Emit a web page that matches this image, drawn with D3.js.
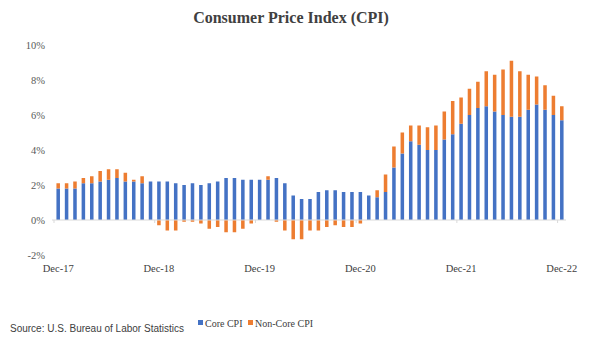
<html>
<head>
<meta http-equiv="content-type" content="text/html; charset=UTF8">
<title>Consumer Price Index (CPI)</title>
</head>
<style type="text/css">
body { margin: 0; padding: 0; overflow: hidden; background: #fff; }
svg text { font-family: "Liberation Serif", "Times New Roman", serif; }
</style>
<body>
<div id="chart"></div>
<script type="text/javascript" src="https://cdnjs.cloudflare.com/ajax/libs/d3/7.8.5/d3.min.js"></script>
<script type="text/javascript">

var months = [
    "Dec-17",
    "Jan-18","Feb-18","Mar-18","Apr-18","May-18","Jun-18","Jul-18","Aug-18","Sep-18","Oct-18","Nov-18","Dec-18",
    "Jan-19","Feb-19","Mar-19","Apr-19","May-19","Jun-19","Jul-19","Aug-19","Sep-19","Oct-19","Nov-19","Dec-19",
    "Jan-20","Feb-20","Mar-20","Apr-20","May-20","Jun-20","Jul-20","Aug-20","Sep-20","Oct-20","Nov-20","Dec-20",
    "Jan-21","Feb-21","Mar-21","Apr-21","May-21","Jun-21","Jul-21","Aug-21","Sep-21","Oct-21","Nov-21","Dec-21",
    "Jan-22","Feb-22","Mar-22","Apr-22","May-22","Jun-22","Jul-22","Aug-22","Sep-22","Oct-22","Nov-22","Dec-22"
];

// year over year, percent
var coreCPI = [
    1.8,
    1.8, 1.8, 2.1, 2.1, 2.2, 2.3, 2.4, 2.2, 2.2, 2.1, 2.2, 2.2,
    2.2, 2.1, 2.0, 2.1, 2.0, 2.1, 2.2, 2.4, 2.4, 2.3, 2.3, 2.3,
    2.3, 2.4, 2.1, 1.4, 1.2, 1.2, 1.6, 1.7, 1.7, 1.6, 1.6, 1.6,
    1.4, 1.3, 1.6, 3.0, 3.8, 4.5, 4.3, 4.0, 4.0, 4.6, 4.9, 5.5,
    6.0, 6.4, 6.5, 6.2, 6.0, 5.9, 5.9, 6.3, 6.6, 6.3, 6.0, 5.7
];

var nonCoreCPI = [
    0.3,
    0.3, 0.4, 0.3, 0.4, 0.6, 0.6, 0.5, 0.5, 0.1, 0.4, 0.0, -0.3,
    -0.6, -0.6, -0.1, -0.1, -0.2, -0.5, -0.4, -0.7, -0.7, -0.5, -0.2, 0.0,
    0.2, -0.1, -0.6, -1.1, -1.1, -0.6, -0.6, -0.4, -0.3, -0.4, -0.4, -0.2,
    0.0, 0.4, 1.0, 1.2, 1.2, 0.9, 1.1, 1.3, 1.4, 1.6, 1.9, 1.5,
    1.5, 1.5, 2.0, 2.1, 2.6, 3.2, 2.6, 2.0, 1.6, 1.4, 1.1, 0.8
];

var yTicks = [-2, 0, 2, 4, 6, 8, 10];
var xTickLabels = ["Dec-17", "Dec-18", "Dec-19", "Dec-20", "Dec-21", "Dec-22"];
var seriesNames = ["Core CPI", "Non-Core CPI"];
var colors = ["#4472C4", "#ED7D31"];

var width = 603, height = 345;

var svg = d3.select("#chart").append("svg")
    .attr("width", width)
    .attr("height", height);

var x = d3.scaleBand()
    .domain(months)
    .range([54, 566])
    .paddingInner(0.58)
    .paddingOuter(0.29);

var y = d3.scaleLinear()
    .domain([-2, 10])
    .range([255, 45]);

var rows = months.map(function(m, i){
    return { month: m, core: coreCPI[i], noncore: nonCoreCPI[i] };
});

var stack = d3.stack()
    .keys(["core", "noncore"])
    .offset(d3.stackOffsetDiverging);

var layers = stack(rows);

// title
svg.append("text")
    .attr("x", 291)
    .attr("y", 23)
    .attr("text-anchor", "middle")
    .style("font-size", "16px")
    .style("font-weight", "bold")
    .attr("fill", "#404040")
    .text("Consumer Price Index (CPI)");

// y labels (no gridlines)
svg.append("g")
    .selectAll("text")
    .data(yTicks)
    .enter().append("text")
    .attr("x", 45)
    .attr("y", function(d){ return y(d); })
    .attr("dy", "0.35em")
    .attr("text-anchor", "end")
    .style("font-size", "10.5px")
    .attr("fill", "#595959")
    .text(function(d){ return d + "%"; });

// bars
svg.append("g")
    .selectAll("g")
    .data(layers)
    .enter().append("g")
    .attr("fill", function(d, i){ return colors[i]; })
    .selectAll("rect")
    .data(function(d){ return d; })
    .enter().append("rect")
    .attr("x", function(d){ return x(d.data.month); })
    .attr("width", x.bandwidth())
    .attr("y", function(d){ return y(Math.max(d[0], d[1])); })
    .attr("height", function(d){ return Math.abs(y(d[0]) - y(d[1])); });

// zero axis line
svg.append("line")
    .attr("x1", 52).attr("x2", 566)
    .attr("y1", y(0)).attr("y2", y(0))
    .attr("stroke", "#d9d9d9")
    .attr("stroke-width", 1);

// small ticks at year boundaries
svg.append("g")
    .selectAll("line")
    .data(xTickLabels)
    .enter().append("line")
    .attr("x1", function(d){ return x(d) - x.step() * 0.29; })
    .attr("x2", function(d){ return x(d) - x.step() * 0.29; })
    .attr("y1", y(0))
    .attr("y2", y(0) + 3)
    .attr("stroke", "#d9d9d9");

// x labels
svg.append("g")
    .selectAll("text")
    .data(xTickLabels)
    .enter().append("text")
    .attr("x", function(d){ return x(d) + x.bandwidth() / 2; })
    .attr("y", 272)
    .attr("text-anchor", "middle")
    .style("font-size", "10.5px")
    .attr("fill", "#404040")
    .text(function(d){ return d; });

// source
svg.append("text")
    .attr("x", 10)
    .attr("y", 332)
    .style("font-family", "'Liberation Sans', Arial, sans-serif")
    .style("font-size", "10px")
    .attr("fill", "#404040")
    .text("Source: U.S. Bureau of Labor Statistics");

// legend
var legendX = [198, 248];
var legend = svg.append("g")
    .selectAll("g")
    .data(seriesNames)
    .enter().append("g")
    .attr("transform", function(d, i){ return "translate(" + legendX[i] + ",323)"; });

legend.append("rect")
    .attr("x", 0)
    .attr("y", -3)
    .attr("width", 5)
    .attr("height", 5)
    .attr("fill", function(d, i){ return colors[i]; });

legend.append("text")
    .attr("x", 7)
    .attr("y", 0)
    .attr("dy", "0.35em")
    .style("font-size", "10px")
    .attr("fill", "#404040")
    .text(function(d){ return d; });

</script>
</body>
</html>
